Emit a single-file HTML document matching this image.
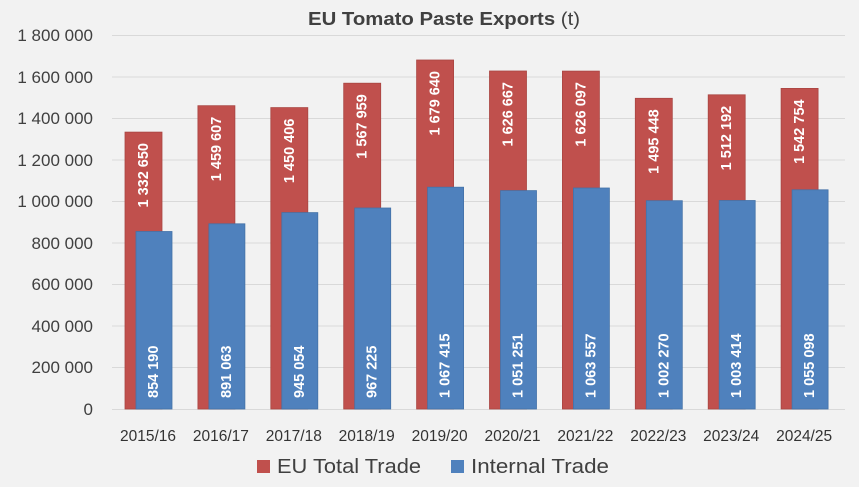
<!DOCTYPE html>
<html><head><meta charset="utf-8"><style>
body{margin:0;background:#f2f2f2}
svg{display:block;font-family:"Liberation Sans",sans-serif}
.t{font-size:17px;fill:#404040}
.c{font-size:15.5px;fill:#333;text-anchor:middle}
.l{font-size:14.5px;font-weight:bold;fill:#fff}
</style></head><body>
<svg width="859" height="487" viewBox="0 0 859 487">
<rect width="859" height="487" fill="#f2f2f2"/>
<text x="444" y="25" text-anchor="middle" font-size="18" fill="#404040" textLength="272" lengthAdjust="spacingAndGlyphs"><tspan font-weight="bold">EU Tomato Paste Exports</tspan> (t)</text>
<g stroke="#d9d9d9" stroke-width="1">
<line x1="112" x2="845" y1="35.5" y2="35.5"/><line x1="112" x2="845" y1="77" y2="77"/>
<line x1="112" x2="845" y1="118.5" y2="118.5"/><line x1="112" x2="845" y1="160" y2="160"/>
<line x1="112" x2="845" y1="201.5" y2="201.5"/><line x1="112" x2="845" y1="243" y2="243"/>
<line x1="112" x2="845" y1="284.5" y2="284.5"/><line x1="112" x2="845" y1="326" y2="326"/>
<line x1="112" x2="845" y1="367.5" y2="367.5"/><line x1="112" x2="845" y1="409.5" y2="409.5"/>
</g>
<g class="t" text-anchor="end">
<text x="93" y="41">1 800 000</text><text x="93" y="83">1 600 000</text>
<text x="93" y="124">1 400 000</text><text x="93" y="166">1 200 000</text>
<text x="93" y="207">1 000 000</text><text x="93" y="249">800 000</text>
<text x="93" y="290">600 000</text><text x="93" y="332">400 000</text>
<text x="93" y="373">200 000</text><text x="93" y="415">0</text>
</g>
<g fill="#c0504d" stroke="#a94542" stroke-width="0.8">
<rect x="125" y="132.1" width="37" height="276.9"/>
<rect x="197.9" y="105.7" width="37" height="303.3"/>
<rect x="270.8" y="107.6" width="37" height="301.4"/>
<rect x="343.7" y="83.2" width="37" height="325.8"/>
<rect x="416.6" y="60" width="37" height="349"/>
<rect x="489.5" y="71" width="37" height="338"/>
<rect x="562.4" y="71.1" width="37" height="337.9"/>
<rect x="635.3" y="98.3" width="37" height="310.7"/>
<rect x="708.2" y="94.8" width="37" height="314.2"/>
<rect x="781.1" y="88.4" width="37" height="320.6"/>
</g>
<g fill="#4f81bd" stroke="#4472a8" stroke-width="0.8">
<rect x="136" y="231.5" width="36" height="177.5"/>
<rect x="208.9" y="223.8" width="36" height="185.2"/>
<rect x="281.8" y="212.6" width="36" height="196.4"/>
<rect x="354.7" y="208" width="36" height="201"/>
<rect x="427.6" y="187.2" width="36" height="221.8"/>
<rect x="500.5" y="190.6" width="36" height="218.4"/>
<rect x="573.4" y="188" width="36" height="221"/>
<rect x="646.3" y="200.7" width="36" height="208.3"/>
<rect x="719.2" y="200.5" width="36" height="208.5"/>
<rect x="792.1" y="189.8" width="36" height="219.2"/>
</g>
<g class="l" text-anchor="end" dominant-baseline="central">
<text transform="translate(144,143) rotate(-90)">1 332 650</text>
<text transform="translate(216.9,116.7) rotate(-90)">1 459 607</text>
<text transform="translate(289.8,118.6) rotate(-90)">1 450 406</text>
<text transform="translate(362.7,94.2) rotate(-90)">1 567 959</text>
<text transform="translate(435.6,71) rotate(-90)">1 679 640</text>
<text transform="translate(508.5,82) rotate(-90)">1 626 667</text>
<text transform="translate(581.4,82.1) rotate(-90)">1 626 097</text>
<text transform="translate(654.3,109.3) rotate(-90)">1 495 448</text>
<text transform="translate(727.2,105.8) rotate(-90)">1 512 192</text>
<text transform="translate(800.1,99.4) rotate(-90)">1 542 754</text>
</g>
<g class="l" text-anchor="start" dominant-baseline="central">
<text transform="translate(154,398) rotate(-90)">854 190</text>
<text transform="translate(226.9,398) rotate(-90)">891 063</text>
<text transform="translate(299.8,398) rotate(-90)">945 054</text>
<text transform="translate(372.7,398) rotate(-90)">967 225</text>
<text transform="translate(445.6,398) rotate(-90)">1 067 415</text>
<text transform="translate(518.5,398) rotate(-90)">1 051 251</text>
<text transform="translate(591.4,398) rotate(-90)">1 063 557</text>
<text transform="translate(664.3,398) rotate(-90)">1 002 270</text>
<text transform="translate(737.2,398) rotate(-90)">1 003 414</text>
<text transform="translate(810.1,398) rotate(-90)">1 055 098</text>
</g>
<g class="c">
<text x="148" y="441">2015/16</text><text x="220.9" y="441">2016/17</text>
<text x="293.8" y="441">2017/18</text><text x="366.7" y="441">2018/19</text>
<text x="439.6" y="441">2019/20</text><text x="512.5" y="441">2020/21</text>
<text x="585.4" y="441">2021/22</text><text x="658.3" y="441">2022/23</text>
<text x="731.2" y="441">2023/24</text><text x="804.1" y="441">2024/25</text>
</g>
<rect x="257" y="460" width="13" height="13" fill="#c0504d"/>
<text x="277" y="473" font-size="20.5" fill="#404040" textLength="144" lengthAdjust="spacingAndGlyphs">EU Total Trade</text>
<rect x="451" y="460" width="13" height="13" fill="#4f81bd"/>
<text x="471" y="473" font-size="20.5" fill="#404040" textLength="138" lengthAdjust="spacingAndGlyphs">Internal Trade</text>
</svg>
</body></html>
